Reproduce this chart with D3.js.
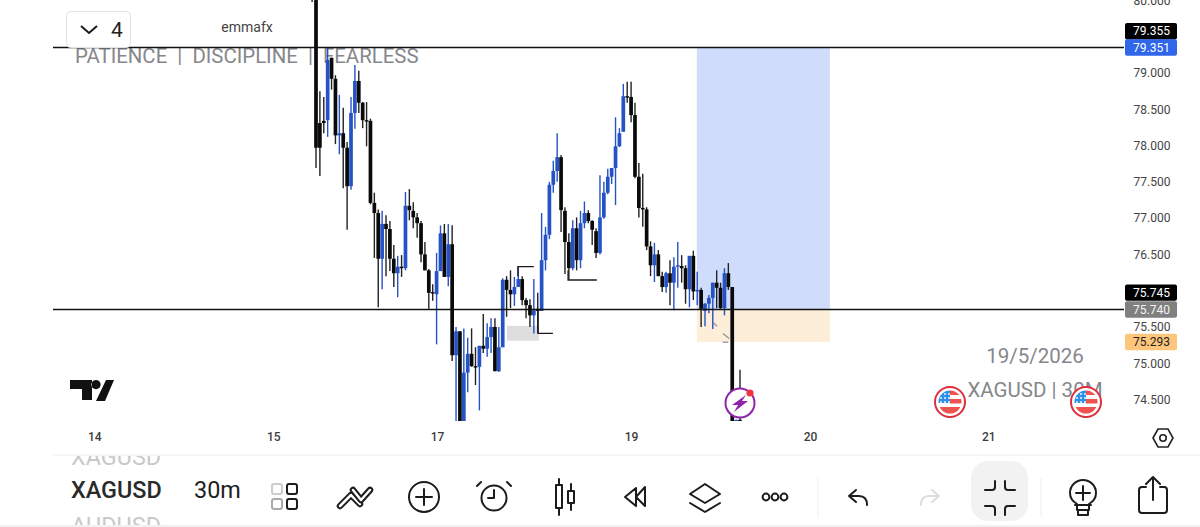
<!DOCTYPE html>
<html><head><meta charset="utf-8">
<script src="https://cdn.jsdelivr.net/npm/d3@7/dist/d3.min.js"></script>
<style>
html,body{margin:0;padding:0;background:#fff;overflow:hidden}
svg{display:block;font-family:Roboto,sans-serif}
</style></head><body><svg id="c" width="1200" height="527"></svg>
<script>
// XAGUSD 30m candles, index 0 is the first bar fully in view (index -1 is prepended)
const opens=[80.6,80.7,78.31,78.34,78.35,79.21,78.92,78.14,78.17,77.97,77.44,78.45,78.89,78.59,78.35,78.34,77.21,77.07,76.44,76.92,76.85,76.44,76.24,76.33,76.31,77.17,77.10,77.01,76.93,76.50,76.28,75.98,75.95,76.27,76.79,76.19,76.64,75.11,75.44,74.08,74.87,75.13,74.96,74.95,75.24,75.20,75.36,75.50,74.89,75.22,76.15,76.01,75.95,76.05,76.16,75.87,75.80,75.66,75.75,75.72,76.42,76.77,77.46,77.65,77.84,77.10,76.67,76.31,76.86,76.42,76.93,77.07,76.96,76.82,76.52,77.01,77.35,77.57,77.69,77.99,78.19,78.68,78.67,78.42,77.57,77.14,77.12,76.61,76.35,76.50,76.20,76.05,76.24,76.11,76.33,76.34,76.31,76.02,76.48,75.99,76.01,75.72,75.82,75.90,76.11,76.04,75.76,76.24,76.05,73.95,74.22];
const highs=[80.9,81.0,78.75,78.67,79.34,79.21,78.97,78.70,78.52,78.05,78.67,79.11,79.03,78.60,78.60,78.37,77.35,77.12,77.10,77.04,76.96,76.63,76.48,76.49,77.36,77.40,77.22,77.07,76.96,76.67,76.30,76.09,76.52,76.90,76.92,76.92,76.90,75.50,75.44,75.48,75.35,75.48,75.22,75.24,75.68,75.55,75.62,75.62,75.50,76.17,76.20,76.28,76.19,76.33,76.20,75.90,75.88,76.16,75.97,77.07,76.88,77.50,77.79,78.17,77.87,77.15,76.79,76.97,77.01,77.10,77.23,77.11,76.97,76.86,77.59,77.50,77.68,77.69,78.39,78.24,78.85,78.88,78.88,78.59,77.76,77.61,77.15,76.68,76.66,76.56,76.26,76.26,76.42,76.46,76.67,76.49,76.35,76.48,76.55,76.26,76.04,75.83,75.94,76.11,76.28,76.11,76.31,76.38,76.05,74.22,74.91];
const lows=[79.98,77.69,77.58,78.17,78.12,78.77,78.02,77.88,77.41,76.84,77.39,78.23,78.45,78.24,77.99,77.19,76.45,75.77,76.02,76.20,76.27,76.05,75.91,76.19,76.28,76.97,76.86,76.73,76.39,76.28,75.75,75.86,75.26,76.27,76.19,76.06,75.03,74.15,73.94,73.94,74.60,74.95,74.70,74.35,75.14,75.09,75.14,74.89,74.88,75.22,75.64,75.76,75.79,76.05,75.80,75.62,75.50,75.41,75.41,75.72,76.28,76.71,77.35,77.50,76.81,76.23,76.15,76.28,76.28,76.31,76.86,76.93,76.63,76.45,76.50,76.99,77.33,77.47,77.18,77.98,78.19,78.59,78.32,77.55,77.01,76.88,76.56,76.20,76.12,76.20,75.98,75.97,75.80,75.73,76.04,76.11,75.82,75.77,75.87,75.80,75.50,75.51,75.69,75.47,75.76,75.75,75.66,76.01,73.90,73.90,73.90];
const closes=[80.3,77.97,77.97,78.31,79.18,78.92,78.14,78.17,77.97,77.44,78.45,78.89,78.59,78.35,78.34,77.21,77.07,76.44,76.92,76.85,76.44,76.24,76.33,76.31,77.17,77.11,77.01,76.93,76.50,76.28,75.97,75.97,76.27,76.79,76.19,76.64,75.11,75.44,74.08,74.87,75.13,74.96,74.95,75.24,75.20,75.36,75.50,74.89,75.22,76.15,76.01,75.95,76.05,76.16,75.87,75.80,75.66,75.73,75.72,76.42,76.77,77.46,77.65,77.84,77.11,76.67,76.31,76.86,76.42,76.93,77.07,76.96,76.84,76.52,77.01,77.35,77.57,77.69,77.99,78.17,78.68,78.67,78.42,77.57,77.14,77.12,76.61,76.35,76.50,76.20,76.05,76.24,76.11,76.33,76.35,76.31,76.02,76.48,75.99,76.01,75.75,75.82,75.90,76.11,76.04,75.76,76.24,76.05,74.08,74.22,73.95];
const firstBar=-1;
const priceTicks=[80,79,78.5,78,77.5,77,76.5,75.5,75,74.5];
const dayLabels=["14","15","17","19","20","21"];
const dayBars=[-57,-11,31.1,81,127,172.8];
const priceTags=[
 {p:79.355,label:"79.355",fill:"#000",text:"#fff",dy:-16},
 {p:79.351,label:"79.351",fill:"#2f66ea",text:"#fff"},
 {p:75.745,label:"75.745",fill:"#000",text:"#fff",dy:-16.5},
 {p:75.740,label:"75.740",fill:"#808080",text:"#f4f4f4"},
 {p:75.293,label:"75.293",fill:"#fdc67c",text:"#222"}];
const hLines=[79.351,75.74];
const targetZone={b0:97.9,b1:132.1,top:79.351,mid:75.74,bottom:75.293};
const grayZone={b0:49.1,b1:57.3,top:75.515,bottom:75.31};
const brackets=[{b0:51.9,b1:56,p:76.33,p2:76.20},{b0:64.8,b1:72.2,p:76.147,p2:76.28},{b0:57.1,b1:60.9,p:75.41,p2:75.73}];
const ticksMarks=[{b0:102.1,b1:103.1,p0:75.56,p1:75.51},{b0:104.6,b1:106.2,p0:75.41,p1:75.34},{b0:104.5,b1:106,p0:75.29,p1:75.29}];

const svg=d3.select("#c");
const x=d3.scaleLinear().domain([0,109]).range([316,316+3.89*109]);
const y=d3.scaleLinear().domain([79,74.5]).range([73,399.5]);
const clip=svg.append("defs").append("clipPath").attr("id","pl");
clip.append("rect").attr("x",53).attr("y",0).attr("width",1071).attr("height",421);

// watermark text under everything
const wm=svg.append("g").attr("fill","#85878b");
wm.append("text").attr("x",75).attr("y",63).attr("font-size",20.4).text("PATIENCE  |  DISCIPLINE  |  FEARLESS").style("white-space","pre");
wm.append("text").attr("x",1035).attr("y",363).attr("font-size",20.5).attr("text-anchor","middle").text("19/5/2026");
wm.append("text").attr("x",1035).attr("y",397).attr("font-size",20.5).attr("text-anchor","middle").text("XAGUSD | 30M");

const plot=svg.append("g").attr("clip-path","url(#pl)");
plot.append("rect").attr("x",x(targetZone.b0)).attr("width",x(targetZone.b1)-x(targetZone.b0)).attr("y",y(targetZone.top)).attr("height",y(targetZone.mid)-y(targetZone.top)).attr("fill","#cfdcfb");
plot.append("rect").attr("x",x(targetZone.b0)).attr("width",x(targetZone.b1)-x(targetZone.b0)).attr("y",y(targetZone.mid)).attr("height",y(targetZone.bottom)-y(targetZone.mid)).attr("fill","#fdeed9");
plot.append("rect").attr("x",x(grayZone.b0)).attr("width",x(grayZone.b1)-x(grayZone.b0)).attr("y",y(grayZone.top)).attr("height",y(grayZone.bottom)-y(grayZone.top)).attr("fill","#dedede");

const bars=opens.map((o,i)=>({i:i+firstBar,o,h:highs[i],l:lows[i],c:closes[i]}));
const g=plot.selectAll("g.bar").data(bars).join("g").attr("class","bar");
const col=d=>d.c>d.o?"#2552c4":"#0a0a0a";
g.append("line").attr("x1",d=>x(d.i)).attr("x2",d=>x(d.i)).attr("y1",d=>y(d.h)).attr("y2",d=>y(d.l)).attr("stroke",d=>d.c>d.o?"#2552c4":"#222").attr("stroke-width",1.4);
g.append("rect").attr("x",d=>x(d.i)-1.85).attr("width",3.7).attr("y",d=>y(Math.max(d.o,d.c))).attr("height",d=>Math.max(1.4,Math.abs(y(d.o)-y(d.c)))).attr("fill",col);

plot.selectAll("path.br").data(brackets).join("path").attr("class","br").attr("fill","none").attr("stroke","#1c1c1c").attr("stroke-width",1.3)
 .attr("d",d=>d3.line()([[x(d.b1),y(d.p)],[x(d.b0),y(d.p)],[x(d.b0),y(d.p2)]]));
plot.selectAll("line.tm").data(ticksMarks).join("line").attr("class","tm").attr("stroke","#8f8f8f").attr("stroke-width",1.2)
 .attr("x1",d=>x(d.b0)).attr("x2",d=>x(d.b1)).attr("y1",d=>y(d.p0)).attr("y2",d=>y(d.p1));

svg.selectAll("line.hl").data(hLines).join("line").attr("class","hl").attr("x1",53).attr("x2",1124).attr("y1",d=>y(d)).attr("y2",d=>y(d)).attr("stroke","#111").attr("stroke-width",1.4);

// price axis
const axis=d3.axisRight(y).tickValues(priceTicks).tickSize(0).tickPadding(0).tickFormat(d3.format(".3f"));
const ag=svg.append("g").attr("transform","translate(1152,0)").call(axis);
ag.select(".domain").remove();
ag.selectAll("text").attr("text-anchor","middle").attr("font-size",12).attr("fill","#444").attr("font-family","Roboto,sans-serif").attr("x",0);

// tags
const tg=svg.selectAll("g.tag").data(priceTags).join("g").attr("class","tag").attr("transform",d=>`translate(1125,${y(d.p)+(d.dy||0)})`);
tg.append("rect").attr("x",0).attr("y",-8.2).attr("width",52).attr("height",16.4).attr("rx",2).attr("fill",d=>d.fill);
tg.append("text").attr("x",26.5).attr("y",4.2).attr("text-anchor","middle").attr("font-size",12).attr("fill",d=>d.text).text(d=>d.label);

// date axis
const dayScale=d3.axisBottom(x).tickValues(dayBars).tickSize(0).tickPadding(0).tickFormat((d,i)=>dayLabels[i]);
const dg=svg.append("g").attr("transform","translate(0,429)").call(dayScale);
dg.select(".domain").remove();
dg.selectAll("text").attr("font-size",12).attr("fill","#3c3c3c").attr("font-weight",500).attr("font-family","Roboto,sans-serif").attr("y",1).attr("dy","0.9em");

// header controls
svg.append("rect").attr("x",66.5).attr("y",11.5).attr("width",64).attr("height",36).attr("rx",4).attr("fill","#fff").attr("stroke","#e2e2e2");
svg.append("path").attr("d","M81 26l8 7 8-7").attr("fill","none").attr("stroke","#1a1a1a").attr("stroke-width",2);
svg.append("text").attr("x",111).attr("y",36.5).attr("font-size",21).attr("fill","#222").text("4");
svg.append("text").attr("x",247).attr("y",32).attr("font-size",14).attr("text-anchor","middle").attr("fill","#444").text("emmafx");

// TradingView mark
svg.append("path").attr("fill","#111").attr("d","M70 380h22v20h-10v-11h-12zM106 380h8l-9 21h-9zM96 380a4.6 4.6 0 1 0 .01 0z");

// lightning marker
const lg=svg.append("g").attr("transform","translate(740,403)");
lg.append("circle").attr("r",14.5).attr("fill","#fff").attr("stroke","#8e24aa").attr("stroke-width",2);
lg.append("path").attr("d","M6-8L-8 2h6l-4 7L8-2H2z").attr("fill","#8e24aa");
lg.append("circle").attr("cx",10).attr("cy",-10).attr("r",3.6).attr("fill","#ef3340");

// flags
svg.selectAll("g.fl").data([950,1086]).join("g").attr("class","fl").attr("transform",d=>`translate(${d},402)`).each(function(){
 const f=d3.select(this);
 f.append("circle").attr("r",15).attr("fill","#fff").attr("stroke","#dc2f3c").attr("stroke-width",2);
 f.append("clipPath").attr("id","fc").append("circle").attr("r",11.5);
 const h=f.append("g").attr("clip-path","url(#fc)");
 h.append("rect").attr("x",-12).attr("y",-12).attr("width",24).attr("height",24).attr("fill","#fff");
 h.append("rect").attr("x",0).attr("y",-3).attr("width",12).attr("height",4.5).attr("fill","#ef5350");
 h.append("rect").attr("x",-12).attr("y",5).attr("width",24).attr("height",7).attr("fill","#ef5350");
 h.append("rect").attr("x",0).attr("y",-12).attr("width",12).attr("height",5).attr("fill","#ef5350");
 h.append("rect").attr("x",-12).attr("y",-12).attr("width",12).attr("height",13).attr("fill","#2f8fe8");
 [-9,-5,-1].forEach(a=>[-8,-4,0].forEach(b=>h.append("circle").attr("cx",a).attr("cy",b).attr("r",0.9).attr("fill","#fff")));
});

// settings hexagon
svg.append("path").attr("d","M1153 438l5-9h10l5 9-5 9h-10z").attr("fill","none").attr("stroke","#222").attr("stroke-width",1.6);
svg.append("circle").attr("cx",1163).attr("cy",438).attr("r",3.2).attr("fill","none").attr("stroke","#222").attr("stroke-width",1.6);

// toolbar
svg.append("rect").attr("x",0).attr("y",454).attr("width",1200).attr("height",73).attr("fill","#fff");
svg.append("rect").attr("x",971).attr("y",461).attr("width",57).attr("height",60).attr("rx",17).attr("fill","#f2f2f2");
svg.append("line").attr("x1",53).attr("x2",1200).attr("y1",455).attr("y2",455).attr("stroke","#ececec");
svg.append("line").attr("x1",0).attr("x2",1200).attr("y1",526).attr("y2",526).attr("stroke","#e4e4e4");
const tc=svg.append("clipPath").attr("id","tb");tc.append("rect").attr("x",0).attr("y",456).attr("width",400).attr("height",69);
const tb=svg.append("g").attr("clip-path","url(#tb)");
tb.append("text").attr("x",71).attr("y",465).attr("font-size",23.4).attr("fill","#c9c9c9").text("XAGUSD");
tb.append("text").attr("x",71).attr("y",498).attr("font-size",23.4).attr("font-weight",500).attr("fill","#2a2a2a").text("XAGUSD");
tb.append("text").attr("x",71).attr("y",534).attr("font-size",23.4).attr("fill","#c9c9c9").text("AUDUSD");
svg.append("text").attr("x",194).attr("y",498).attr("font-size",23.4).attr("font-weight",400).attr("fill","#1d1d1d").text("30m");

const ic=svg.append("g").attr("fill","none").attr("stroke","#1c1c1c").attr("stroke-width",2).attr("stroke-linecap","round").attr("stroke-linejoin","round");
const grid=[[272,484,"#ccc"],[287,484,"#1c1c1c"],[272,499,"#aaa"],[287,499,"#1c1c1c"]];
grid.forEach(a=>ic.append("rect").attr("x",a[0]).attr("y",a[1]).attr("width",10).attr("height",10).attr("rx",2).attr("stroke",a[2]));
ic.append("path").attr("d","M340 506l11-11 9 9").attr("stroke-width",6.5);
ic.append("path").attr("d","M340 506l11-11 9 9").attr("stroke","#fff").attr("stroke-width",2.5);
ic.append("path").attr("d","M353 490l8 10 9-10").attr("stroke-width",6.5);
ic.append("path").attr("d","M353 490l8 10 9-10").attr("stroke","#fff").attr("stroke-width",2.5);
ic.append("circle").attr("cx",424).attr("cy",497).attr("r",15);
ic.append("path").attr("d","M424 489v16M416 497h16");
ic.append("circle").attr("cx",494).attr("cy",498).attr("r",12.5);
ic.append("path").attr("d","M494 490v8h-6M481 482l-4 4M507 482l4 4");
ic.append("path").attr("d","M559 479v36M571 484v26");
ic.append("rect").attr("x",556).attr("y",485).attr("width",6).attr("height",23).attr("fill","#fff");
ic.append("rect").attr("x",568).attr("y",491).attr("width",6).attr("height",12).attr("fill","#fff");
ic.append("path").attr("d","M636 488l-11 9 11 9zM645 487l-9 10 9 9z");
ic.append("path").attr("d","M705 484l15 10-15 9-15-9zM690 503l15 9 15-9");
[766,775,784].forEach(c=>ic.append("circle").attr("cx",c).attr("cy",497).attr("r",3.4));
svg.append("line").attr("x1",818).attr("x2",818).attr("y1",478).attr("y2",517).attr("stroke","#eee");
svg.append("line").attr("x1",1041).attr("x2",1041).attr("y1",478).attr("y2",517).attr("stroke","#eee");
ic.append("path").attr("d","M856 490l-7 6 7 6M849 496h10c5 0 8 3 8 9");
ic.append("path").attr("d","M932 490l7 6-7 6M939 496h-10c-5 0-8 3-8 9").attr("stroke","#dcdcdc");
ic.append("path").attr("d","M995 481v6a3 3 0 0 1-3 3h-7M1005 481v6a3 3 0 0 0 3 3h7M995 515v-6a3 3 0 0 0-3-3h-7M1005 515v-6a3 3 0 0 1 3-3h7");
ic.append("path").attr("d","M1077 510v-6c-5-3-7-6-7-11a13 13 0 0 1 26 0c0 5-2 8-7 11v6zM1078 510v5h10v-5M1075 505h16M1083 486v14M1076 493h14");
ic.append("path").attr("d","M1146 487h-4a3 3 0 0 0-3 3v20a3 3 0 0 0 3 3h22a3 3 0 0 0 3-3v-20a3 3 0 0 0-3-3h-4M1153 500v-22M1146 484l7-7 7 7");
</script></body></html>
